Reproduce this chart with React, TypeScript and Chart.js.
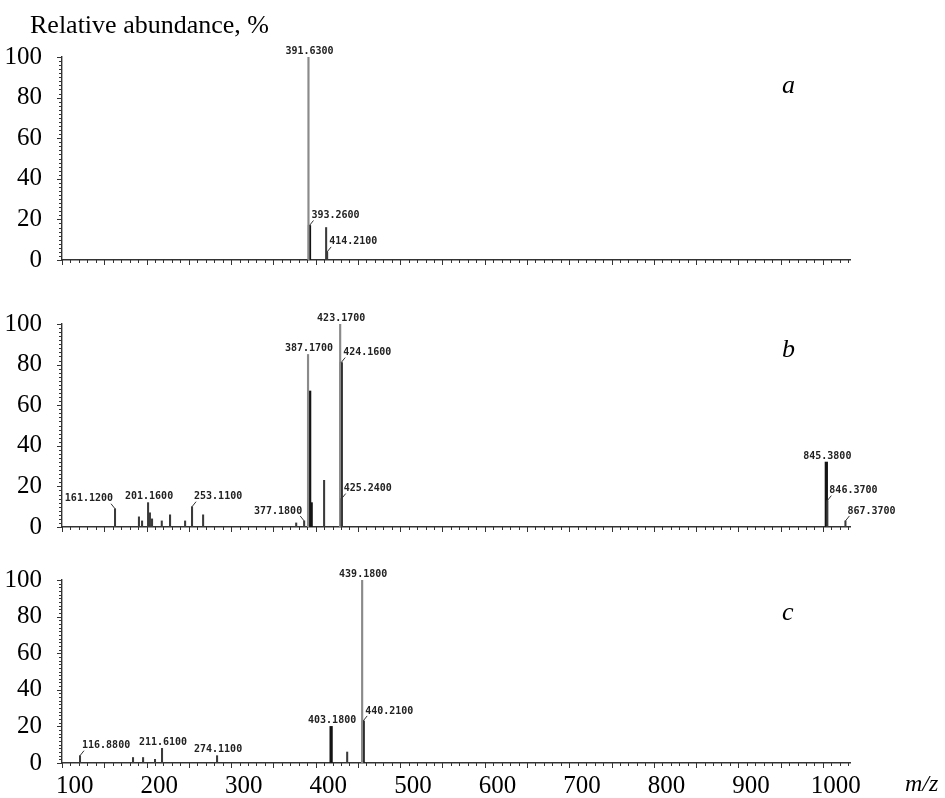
import React, { useEffect, useRef } from 'react';
import { Chart, registerables } from 'chart.js';
Chart.register(...registerables);

// ---------- axis data ----------
const MZ_MIN = 85;
const MZ_MAX = 1017;
const xTickValues = [100, 200, 300, 400, 500, 600, 700, 800, 900, 1000];
const yTickValues = [0, 20, 40, 60, 80, 100];

// ---------- panel a ----------
const aGrayMz = [376.5];
const aGrayAb = [100];
const aBoldMz = [377.7];
const aBoldAb = [17];
const aFineMz = [397.4, 398.6];
const aFineAb = [16, 4];
const aLabelText = ['391.6300', '393.2600', '414.2100'];
const aLabelMz = [376.5, 377.7, 398.6];
const aLabelAb = [100, 17, 4];
const aLabelSide = ['c', 'r', 'r'];

// ---------- panel b ----------
const bGrayMz = [376.0, 414.0];
const bGrayAb = [85, 100];
const bBoldMz = [377.9, 379.7, 415.2, 989.0];
const bBoldAb = [67, 12, 81, 32];
const bFineMz = [147.7, 176.0, 179.7, 186.8, 189.0, 191.5, 203.0, 212.8, 230.6, 238.8, 251.9, 362.0, 371.4, 395.0, 415.8, 990.2, 1011.6];
const bFineAb = [9, 5, 3, 12, 7, 4, 3, 6, 3, 10, 6, 2, 3, 23, 14, 13, 3];
const bLabelText = ['161.1200', '201.1600', '253.1100', '377.1800', '387.1700', '423.1700', '424.1600', '425.2400', '845.3800', '846.3700', '867.3700'];
const bLabelMz = [147.7, 186.8, 238.8, 371.4, 376.0, 414.0, 415.2, 415.8, 989.0, 990.2, 1011.6];
const bLabelAb = [9, 12, 10, 3, 85, 100, 81, 14, 32, 13, 3];
const bLabelSide = ['l', 'c', 'r', 'l', 'c', 'c', 'r', 'r', 'c', 'r', 'r'];

// ---------- panel c ----------
const cGrayMz = [440.0];
const cGrayAb = [100];
const cBoldMz = [403.3, 441.2];
const cBoldAb = [20, 23];
const cFineMz = [106.3, 169.0, 180.9, 195.0, 203.3, 268.4, 422.3];
const cFineAb = [4, 3, 3, 2, 8, 4, 6];
const cLabelText = ['116.8800', '211.6100', '274.1100', '403.1800', '439.1800', '440.2100'];
const cLabelMz = [106.3, 203.3, 268.4, 403.3, 440.0, 441.2];
const cLabelAb = [4, 8, 4, 20, 100, 23];
const cLabelSide = ['r', 'c', 'c', 'c', 'c', 'r'];

const SERIF = '"Liberation Serif", "Times New Roman", serif';

const tickMarks = {
  id: 'tickMarks',
  afterDraw(chart: any) {
    const { ctx, chartArea, scales } = chart;
    const x = scales.x;
    const y = scales.y;
    ctx.save();
    ctx.strokeStyle = '#333';
    ctx.lineWidth = 1;
    const n = Math.floor((MZ_MAX - MZ_MIN) / 10);
    for (let k = 0; k <= n; k++) {
      const px = Math.round(x.getPixelForValue(MZ_MIN + 10 * k)) + 0.5;
      const len = k % 5 === 0 ? 5 : 3;
      ctx.beginPath();
      ctx.moveTo(px, chartArea.bottom);
      ctx.lineTo(px, chartArea.bottom + len);
      ctx.stroke();
    }
    for (let k = 0; k <= 50; k++) {
      const py = Math.round(y.getPixelForValue(2 * k)) + 0.5;
      const len = k % 10 === 0 ? 5 : 3;
      ctx.beginPath();
      ctx.moveTo(chartArea.left, py);
      ctx.lineTo(chartArea.left - len, py);
      ctx.stroke();
    }
    ctx.restore();
  },
};

function makeLabelPlugin(text: string[], mz: number[], ab: number[], side: string[]) {
  return {
    id: 'peakLabels',
    afterDatasetsDraw(chart: any) {
      const { ctx, scales } = chart;
      ctx.save();
      ctx.font = 'bold 10px "DejaVu Sans Mono", monospace';
      ctx.fillStyle = '#222';
      ctx.strokeStyle = '#333';
      ctx.lineWidth = 1;
      ctx.textBaseline = 'middle';
      text.forEach((t, i) => {
        const px = scales.x.getPixelForValue(mz[i]);
        const py = scales.y.getPixelForValue(ab[i]);
        const s = side[i];
        if (s === 'c') {
          ctx.textAlign = 'center';
          ctx.fillText(t, px + 1, py - 6);
        } else if (s === 'r') {
          ctx.beginPath();
          ctx.moveTo(px, py);
          ctx.lineTo(px + 4, py - 5);
          ctx.stroke();
          ctx.textAlign = 'left';
          ctx.fillText(t, px + 2, py - 10);
        } else {
          ctx.beginPath();
          ctx.moveTo(px, py);
          ctx.lineTo(px - 4, py - 5);
          ctx.stroke();
          ctx.textAlign = 'right';
          ctx.fillText(t, px - 2, py - 10);
        }
      });
      ctx.restore();
    },
  };
}

type PanelProps = {
  top: number;
  height: number;
  areaTop: number;
  areaBottom: number;
  showX: boolean;
  grayMz: number[]; grayAb: number[];
  boldMz: number[]; boldAb: number[];
  fineMz: number[]; fineAb: number[];
  lText: string[]; lMz: number[]; lAb: number[]; lSide: string[];
};

function Panel(p: PanelProps) {
  const ref = useRef<HTMLCanvasElement | null>(null);
  useEffect(() => {
    const pts = (m: number[], a: number[]) => m.map((x, i) => ({ x, y: a[i] }));
    const chart = new Chart(ref.current as HTMLCanvasElement, {
      type: 'bar',
      data: {
        datasets: [
          { data: pts(p.fineMz, p.fineAb) as any, backgroundColor: '#3a3a3a', barThickness: 1.4, grouped: false, borderWidth: 0 } as any,
          { data: pts(p.grayMz, p.grayAb) as any, backgroundColor: '#8a8a8a', barThickness: 1.5, grouped: false, borderWidth: 0 } as any,
          { data: pts(p.boldMz, p.boldAb) as any, backgroundColor: '#141414', barThickness: 2.6, grouped: false, borderWidth: 0 } as any,
        ],
      },
      options: {
        responsive: false,
        animation: false,
        devicePixelRatio: 1,
        layout: { autoPadding: false, padding: { left: 0, right: 95, top: p.areaTop, bottom: 0 } } as any,
        plugins: { legend: { display: false }, tooltip: { enabled: false } },
        scales: {
          x: {
            type: 'linear',
            min: MZ_MIN,
            max: MZ_MAX,
            offset: false,
            grid: { display: false },
            border: { display: true, color: '#333', width: 1.4 },
            ticks: {
              display: p.showX,
              font: { family: SERIF, size: 25 },
              color: '#000',
              padding: 0,
              maxRotation: 0,
              autoSkip: false,
              callback: (v: any) => String(v),
            },
            afterBuildTicks: (s: any) => { s.ticks = xTickValues.map((v) => ({ value: v })); },
            afterFit: (s: any) => { s.height = p.height - p.areaBottom; },
          },
          y: {
            min: 0,
            max: 100,
            grid: { display: false },
            border: { display: true, color: '#333', width: 1.4 },
            ticks: {
              font: { family: SERIF, size: 25 },
              color: '#000',
              padding: 12,
              callback: (v: any) => String(v),
            },
            afterBuildTicks: (s: any) => { s.ticks = yTickValues.map((v) => ({ value: v })); },
            afterFit: (s: any) => { s.width = 62; },
          },
        } as any,
      },
      plugins: [tickMarks, makeLabelPlugin(p.lText, p.lMz, p.lAb, p.lSide)],
    });
    return () => chart.destroy();
  }, []);
  return (
    <canvas
      ref={ref}
      width={945}
      height={p.height}
      style={{ position: 'absolute', left: 0, top: p.top, width: 945, height: p.height }}
    />
  );
}

const txt = (extra: React.CSSProperties): React.CSSProperties => ({
  position: 'absolute',
  fontFamily: SERIF,
  color: '#000',
  lineHeight: 1,
  whiteSpace: 'nowrap',
  ...extra,
});

export default function App() {
  return (
    <div style={{ position: 'fixed', left: 0, top: 0, width: 945, height: 798, background: '#fff', overflow: 'hidden' }}>
      <Panel top={0} height={292} areaTop={57} areaBottom={260} showX={false}
        grayMz={aGrayMz} grayAb={aGrayAb} boldMz={aBoldMz} boldAb={aBoldAb} fineMz={aFineMz} fineAb={aFineAb}
        lText={aLabelText} lMz={aLabelMz} lAb={aLabelAb} lSide={aLabelSide} />
      <Panel top={275} height={284} areaTop={49} areaBottom={252} showX={false}
        grayMz={bGrayMz} grayAb={bGrayAb} boldMz={bBoldMz} boldAb={bBoldAb} fineMz={bFineMz} fineAb={bFineAb}
        lText={bLabelText} lMz={bLabelMz} lAb={bLabelAb} lSide={bLabelSide} />
      <Panel top={540} height={258} areaTop={40} areaBottom={223} showX={true}
        grayMz={cGrayMz} grayAb={cGrayAb} boldMz={cBoldMz} boldAb={cBoldAb} fineMz={cFineMz} fineAb={cFineAb}
        lText={cLabelText} lMz={cLabelMz} lAb={cLabelAb} lSide={cLabelSide} />
      <div style={txt({ left: 30, top: 12, fontSize: 26 })}>Relative abundance, %</div>
      <div style={txt({ left: 782, top: 72, fontSize: 26, fontStyle: 'italic' })}>a</div>
      <div style={txt({ left: 782, top: 336, fontSize: 26, fontStyle: 'italic' })}>b</div>
      <div style={txt({ left: 782, top: 599, fontSize: 26, fontStyle: 'italic' })}>c</div>
      <div style={txt({ left: 905, top: 771, fontSize: 24, fontStyle: 'italic' })}>m/z</div>
    </div>
  );
}
